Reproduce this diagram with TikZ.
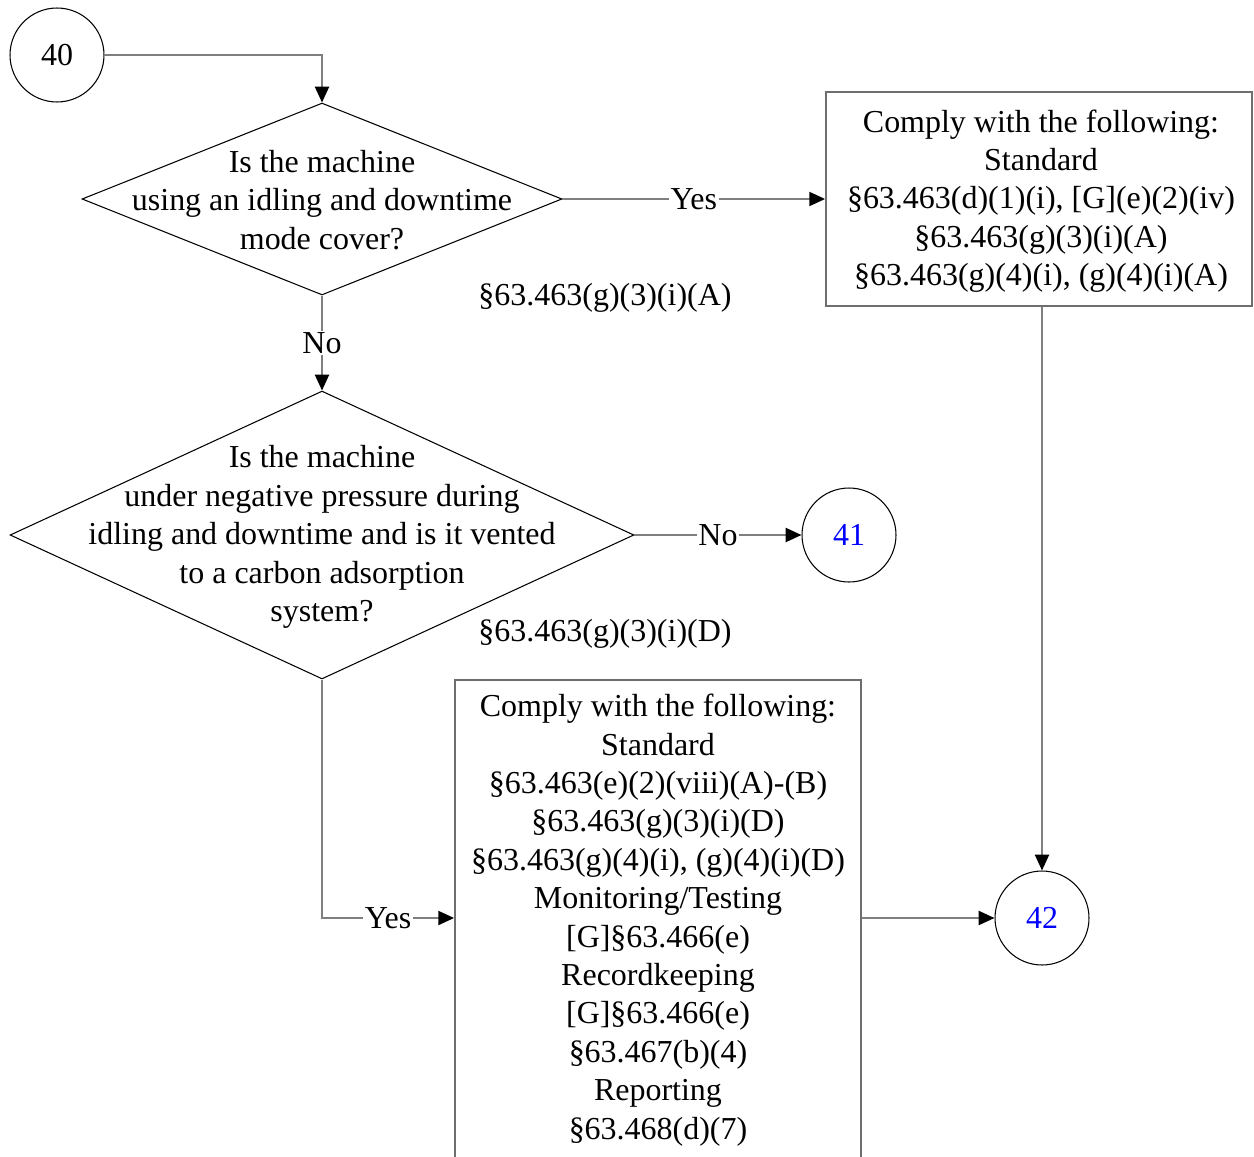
\documentclass[tikz,border=0pt]{standalone}
\usepackage{fontspec}
\setmainfont{Liberation Serif}
\usetikzlibrary{shapes.geometric,arrows.meta}
\definecolor{linegray}{HTML}{7F7F7F}
\definecolor{boxgray}{HTML}{6E6E6E}
\definecolor{refblue}{HTML}{0000FF}
\begin{document}
\begin{tikzpicture}[x=0.02cm,y=-0.02cm,
  every node/.style={font=\fontsize{18.2}{21.85}\selectfont},
  txt/.style={align=center, inner sep=0pt},
  conn/.style={draw=linegray, line width=1.1pt, -{Triangle[length=9pt,width=8pt,color=black]}},
  lbl/.style={fill=white, inner sep=1pt},
  dec/.style={shape=diamond, draw=black, line width=0.6pt, inner sep=0pt},
  cbox/.style={shape=rectangle, draw=boxgray, line width=1.1pt, inner sep=0pt},
  conncirc/.style={shape=circle, draw=black, line width=0.6pt, minimum size=1.88cm, inner sep=0pt}
]
\useasboundingbox (0,0) rectangle (1254,1156);

% connector circles
\node[conncirc] (c40) at (57,55) {40};
\node[conncirc, text=refblue] (c41) at (849,535) {41};
\node[conncirc, text=refblue] (c42) at (1042,918) {42};

% decision 1
\node[dec, minimum width=9.6cm, minimum height=3.84cm] (d1) at (322,199) {};
\node[txt] (d1t) at (322,200) {Is the machine\\using an idling and downtime\\mode cover?};
\node[txt] (ref1) at (605,298) {§63.463(g)(3)(i)(A)};

% box 1
\node[cbox, minimum width=8.52cm, minimum height=4.28cm] (box1) at (1039,199) {};
\node[txt] (b1t) at (1041,201) {Comply with the following:\\Standard\\§63.463(d)(1)(i), [G](e)(2)(iv)\\§63.463(g)(3)(i)(A)\\§63.463(g)(4)(i), (g)(4)(i)(A)};

% decision 2
\node[dec, minimum width=12.48cm, minimum height=5.76cm] (d2) at (322,535) {};
\node[txt] (d2t) at (322,537) {Is the machine\\under negative pressure during\\idling and downtime and is it vented\\to a carbon adsorption\\system?};
\node[txt] (ref2) at (605,634) {§63.463(g)(3)(i)(D)};

% box 2 (runs off the bottom edge)
\node[cbox, anchor=north, minimum width=8.12cm, minimum height=9.8cm] (box2) at (658,679) {};
\node[txt] (b2t) at (658,920) {Comply with the following:\\Standard\\§63.463(e)(2)(viii)(A)-(B)\\§63.463(g)(3)(i)(D)\\§63.463(g)(4)(i), (g)(4)(i)(D)\\Monitoring/Testing\\{}[G]§63.466(e)\\Recordkeeping\\{}[G]§63.466(e)\\§63.467(b)(4)\\Reporting\\§63.468(d)(7)};

\coordinate (b2in) at (box2.west |- c42);
\coordinate (b2out) at (box2.east |- c42);
\coordinate (b1out) at (c42 |- box1.south);

% connectors
\draw[conn] (c40.east) -| (d1.north);
\draw[conn] (d1.east) -- node[lbl] {Yes} (box1.west);
\draw[conn] (d1.south) -- node[lbl] {No} (d2.north);
\draw[conn] (d2.east) -- node[lbl] {No} (c41.west);
\draw[conn] (d2.south) |- node[lbl, pos=0.75] {Yes} (b2in);
\draw[conn] (b1out) -- (c42.north);
\draw[conn] (b2out) -- (c42.west);
\end{tikzpicture}
\end{document}
